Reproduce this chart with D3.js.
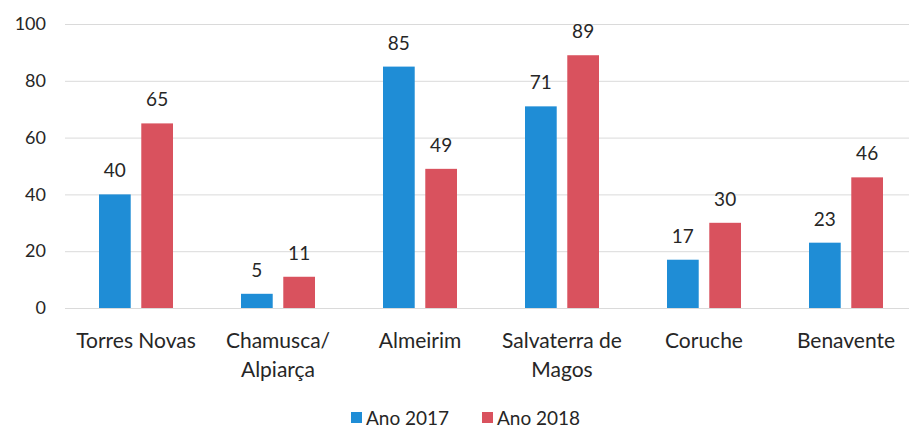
<!DOCTYPE html>
<html>
<head>
<meta charset="utf-8">
<script src="https://cdn.jsdelivr.net/npm/d3@7"></script>
<style>
  body { margin: 0; background: #fff; }
  text { font-family: Lato, "Noto Sans", sans-serif; fill: #262626; }
</style>
</head>
<body>
<script>
// data
var categories = ["Torres Novas", "Chamusca/\nAlpiarça", "Almeirim", "Salvaterra de\nMagos", "Coruche", "Benavente"];
var seriesNames = ["Ano 2017", "Ano 2018"];
var values2017 = [40, 5, 85, 71, 17, 23];
var values2018 = [65, 11, 49, 89, 30, 46];
var yTicks = [0, 20, 40, 60, 80, 100];
var colors = ["#1f8dd6", "#d9525e"];

var width = 909, height = 432;

var svg = d3.select("body").append("svg")
    .attr("width", width)
    .attr("height", height);

var xScale = d3.scaleBand()
    .domain(categories)
    .range([65, 917])
    .paddingInner(0)
    .paddingOuter(0);

var yScale = d3.scaleLinear()
    .domain([0, 100])
    .range([308, 24]);

var inner = d3.scaleBand()
    .domain(seriesNames)
    .range([xScale.bandwidth() / 2 - 37, xScale.bandwidth() / 2 + 37])
    .paddingInner(0.25);

// grid lines
svg.append("g").selectAll("line")
    .data(yTicks)
    .enter().append("line")
    .attr("x1", 65).attr("x2", 909)
    .attr("y1", function(d) { return yScale(d) + 0.5; })
    .attr("y2", function(d) { return yScale(d) + 0.5; })
    .attr("stroke", "#dadada")
    .attr("stroke-width", 1);

// y axis labels
var yAxis = d3.axisLeft(yScale).tickValues(yTicks).tickSize(0).tickPadding(0);
var yG = svg.append("g")
    .attr("transform", "translate(46,0)")
    .call(yAxis);
yG.select(".domain").remove();
yG.selectAll("text")
    .style("font-size", "18px")
    .attr("fill", "#262626");

// x axis labels, wrapped on \n
var xG = svg.append("g");
categories.forEach(function(c) {
  var lines = c.split("\n");
  var t = xG.append("text")
      .attr("text-anchor", "middle")
      .style("font-size", "21px")
      .attr("x", xScale(c) + xScale.bandwidth() / 2)
      .attr("y", 348);
  lines.forEach(function(l, i) {
    t.append("tspan")
      .attr("x", xScale(c) + xScale.bandwidth() / 2)
      .attr("dy", i === 0 ? 0 : 29)
      .text(l);
  });
});

// bars
var allSeries = [values2017, values2018];
allSeries.forEach(function(vals, s) {
  var g = svg.append("g");
  g.selectAll("rect")
    .data(vals)
    .enter().append("rect")
    .attr("x", function(d, i) { return xScale(categories[i]) + inner(seriesNames[s]); })
    .attr("y", function(d) { return yScale(d); })
    .attr("width", inner.bandwidth())
    .attr("height", function(d) { return yScale(0) - yScale(d); })
    .attr("fill", colors[s]);

  g.selectAll("text")
    .data(vals)
    .enter().append("text")
    .attr("text-anchor", "middle")
    .style("font-size", "19px")
    .attr("x", function(d, i) { return xScale(categories[i]) + inner(seriesNames[s]) + inner.bandwidth() / 2; })
    .attr("y", function(d) { return yScale(d) - 17; })
    .text(function(d) { return d; });
});

// legend
var legendX = [351, 482];
var legend = svg.selectAll(".legend")
    .data(seriesNames)
    .enter().append("g")
    .attr("class", "legend")
    .attr("transform", function(d, i) { return "translate(" + legendX[i] + ",412)"; });

legend.append("rect")
    .attr("width", 11).attr("height", 11)
    .attr("fill", function(d, i) { return colors[i]; });

legend.append("text")
    .attr("x", 15).attr("y", 13)
    .style("font-size", "19px")
    .text(function(d) { return d; });
</script>
</body>
</html>
